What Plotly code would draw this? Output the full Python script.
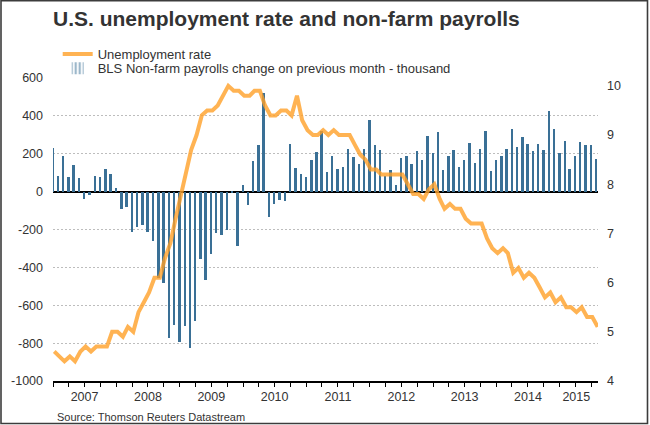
import pandas as pd
import plotly.graph_objects as go
from plotly.subplots import make_subplots

# ---- data (monthly, Jan 2007 - Aug 2015) ----
payrolls = [
    233, 85, 187, 76, 143, 71, -39, -18, 85, 79, 118, 95,          # 2007
    18, -92, -81, -215, -187, -176, -215, -263, -455, -480, -771, -702,  # 2008
    -796, -707, -826, -684, -356, -469, -330, -220, -229, -205, -7, -288,  # 2009
    34, -72, 161, 245, 522, -134, -65, -46, -49, 250, 123, 92,     # 2010
    76, 166, 208, 318, 102, 187, 118, 129, 224, 182, 145, 224,     # 2011
    377, 245, 219, 85, 113, 34, 176, 187, 145, 213, 166, 293,      # 2012
    203, 314, 113, 187, 219, 129, 166, 256, 150, 224, 319, 108,    # 2013
    166, 187, 224, 330, 235, 288, 250, 213, 250, 219, 425, 330,    # 2014
    203, 266, 118, 187, 261, 245, 245, 171,                        # 2015
]
unemployment = [
    4.6, 4.5, 4.4, 4.5, 4.4, 4.6, 4.7, 4.6, 4.7, 4.7, 4.7, 5.0,
    5.0, 4.9, 5.1, 5.0, 5.4, 5.6, 5.8, 6.1, 6.1, 6.5, 6.8, 7.3,
    7.8, 8.3, 8.7, 9.0, 9.4, 9.5, 9.5, 9.6, 9.8, 10.0, 9.9, 9.9,
    9.8, 9.8, 9.9, 9.9, 9.6, 9.4, 9.4, 9.5, 9.5, 9.4, 9.8, 9.3,
    9.1, 9.0, 9.0, 9.1, 9.0, 9.1, 9.0, 9.0, 9.0, 8.8, 8.6, 8.5,
    8.3, 8.3, 8.2, 8.2, 8.2, 8.2, 8.2, 8.0, 7.8, 7.8, 7.7, 7.9,
    8.0, 7.7, 7.5, 7.6, 7.5, 7.5, 7.3, 7.2, 7.2, 7.2, 6.9, 6.7,
    6.6, 6.7, 6.6, 6.2, 6.3, 6.1, 6.2, 6.1, 5.9, 5.7, 5.8, 5.6,
    5.7, 5.5, 5.5, 5.4, 5.5, 5.3, 5.3, 5.1,
]
year_labels = ["2007", "2008", "2009", "2010", "2011", "2012", "2013", "2014", "2015"]
year_label_dates = ["2007-07-02", "2008-07-02", "2009-07-02", "2010-07-02", "2011-07-02",
                    "2012-07-02", "2013-07-02", "2014-07-02", "2015-04-07"]
left_ticks = [-1000, -800, -600, -400, -200, 0, 200, 400, 600]
left_ticktext = ["-1000", "-800", "-600", "-400", "-200", "0", "200", "400", "600"]
right_ticks = [4, 5, 6, 7, 8, 9, 10]

months = pd.date_range("2007-01-01", periods=len(payrolls), freq="MS")
line_dates = months + pd.Timedelta(days=7)

BAR_COLOR = "#3A7096"
LINE_COLOR = "rgba(255,160,40,0.8)"
TEXT = "#333333"
FONT = "Liberation Sans, Arial, sans-serif"

ML, MR, MT, MB = 53, 52, 78, 44
PW, PH = 650 - ML - MR, 425 - MT - MB


def px_x(px):
    return (px - ML) / PW


def px_y(py):
    return (425 - MB - py) / PH


fig = make_subplots(specs=[[{"secondary_y": True}]])

fig.add_trace(go.Bar(
    x=months, y=payrolls, name="BLS Non-farm payrolls change on previous month - thousand",
    marker=dict(color=BAR_COLOR, line=dict(width=0)),
    width=11 * 86400000, showlegend=False,
), secondary_y=False)

# legend-only entry with striped icon
fig.add_trace(go.Bar(
    x=[None], y=[None], name="BLS Non-farm payrolls change on previous month - thousand",
    marker=dict(color="white", line=dict(width=0),
                pattern=dict(shape="|", fgcolor=BAR_COLOR, bgcolor="white", size=5, solidity=0.55)),
    legend="legend2",
), secondary_y=False)

fig.add_trace(go.Scatter(
    x=line_dates, y=unemployment, mode="lines", name="Unemployment rate",
    line=dict(color=LINE_COLOR, width=4), legend="legend",
), secondary_y=True)

fig.update_layout(
    width=650, height=425,
    margin=dict(l=ML, r=MR, t=MT, b=MB, autoexpand=False),
    paper_bgcolor="white", plot_bgcolor="white",
    font=dict(family=FONT, color=TEXT, size=13),
    bargap=0,
    title=dict(text="<b>U.S. unemployment rate and non-farm payrolls</b>",
               font=dict(family=FONT, size=21, color=TEXT),
               x=53 / 650, xref="container", xanchor="left",
               y=1 - 18.6 / 425, yref="container", yanchor="middle"),
    legend=dict(x=px_x(57.7), xanchor="left", y=px_y(54), yanchor="middle",
                bgcolor="rgba(0,0,0,0)", font=dict(size=13, color=TEXT)),
    legend2=dict(x=px_x(57.7), xanchor="left", y=px_y(68.3), yanchor="middle",
                 bgcolor="rgba(0,0,0,0)", font=dict(size=13, color=TEXT)),
    annotations=[dict(text="Source: Thomson Reuters Datastream", xref="paper", yref="paper",
                      x=px_x(55), y=px_y(416.8), xanchor="left", yanchor="middle",
                      showarrow=False, font=dict(size=11, color=TEXT, family=FONT))],
    shapes=[dict(type="rect", xref="paper", yref="paper",
                 x0=px_x(1), x1=px_x(647.5), y0=px_y(423.5), y1=px_y(0.8),
                 line=dict(color="#3c3c3c", width=1.6), fillcolor="rgba(0,0,0,0)", layer="above")],
)

fig.update_xaxes(
    domain=[0, 1],
    type="date", range=["2007-01-01", "2015-08-10"],
    tickmode="array", tickvals=year_label_dates, ticktext=year_labels,
    ticks="", showgrid=False, zeroline=False,
    showline=True, linecolor="black", linewidth=1.5,
    tickfont=dict(size=12.5, color=TEXT), ticklabelstandoff=3,
    minor=dict(dtick="M3", tick0="2007-01-01", ticks="outside", ticklen=4,
               tickcolor="black", tickwidth=1, showgrid=False),
)

fig.update_yaxes(
    range=[-1000, 600], tickmode="array", tickvals=left_ticks, ticktext=left_ticktext,
    showgrid=True, gridcolor="#bdbdbd", griddash="2px,2px", gridwidth=1,
    zeroline=True, zerolinecolor="black", zerolinewidth=1.5,
    showline=False, ticks="", tickfont=dict(size=12.5, color=TEXT), ticklabelstandoff=9,
    secondary_y=False,
)
fig.update_yaxes(
    range=[4, 10.16], tickmode="array", tickvals=right_ticks,
    showgrid=False, zeroline=False, showline=False, ticks="",
    tickfont=dict(size=12.5, color=TEXT), ticklabelstandoff=8,
    secondary_y=True,
)

fig.write_html("out.html", config={"displayModeBar": False},
               post_script="document.body.style.margin='0';document.body.style.overflow='hidden';")
